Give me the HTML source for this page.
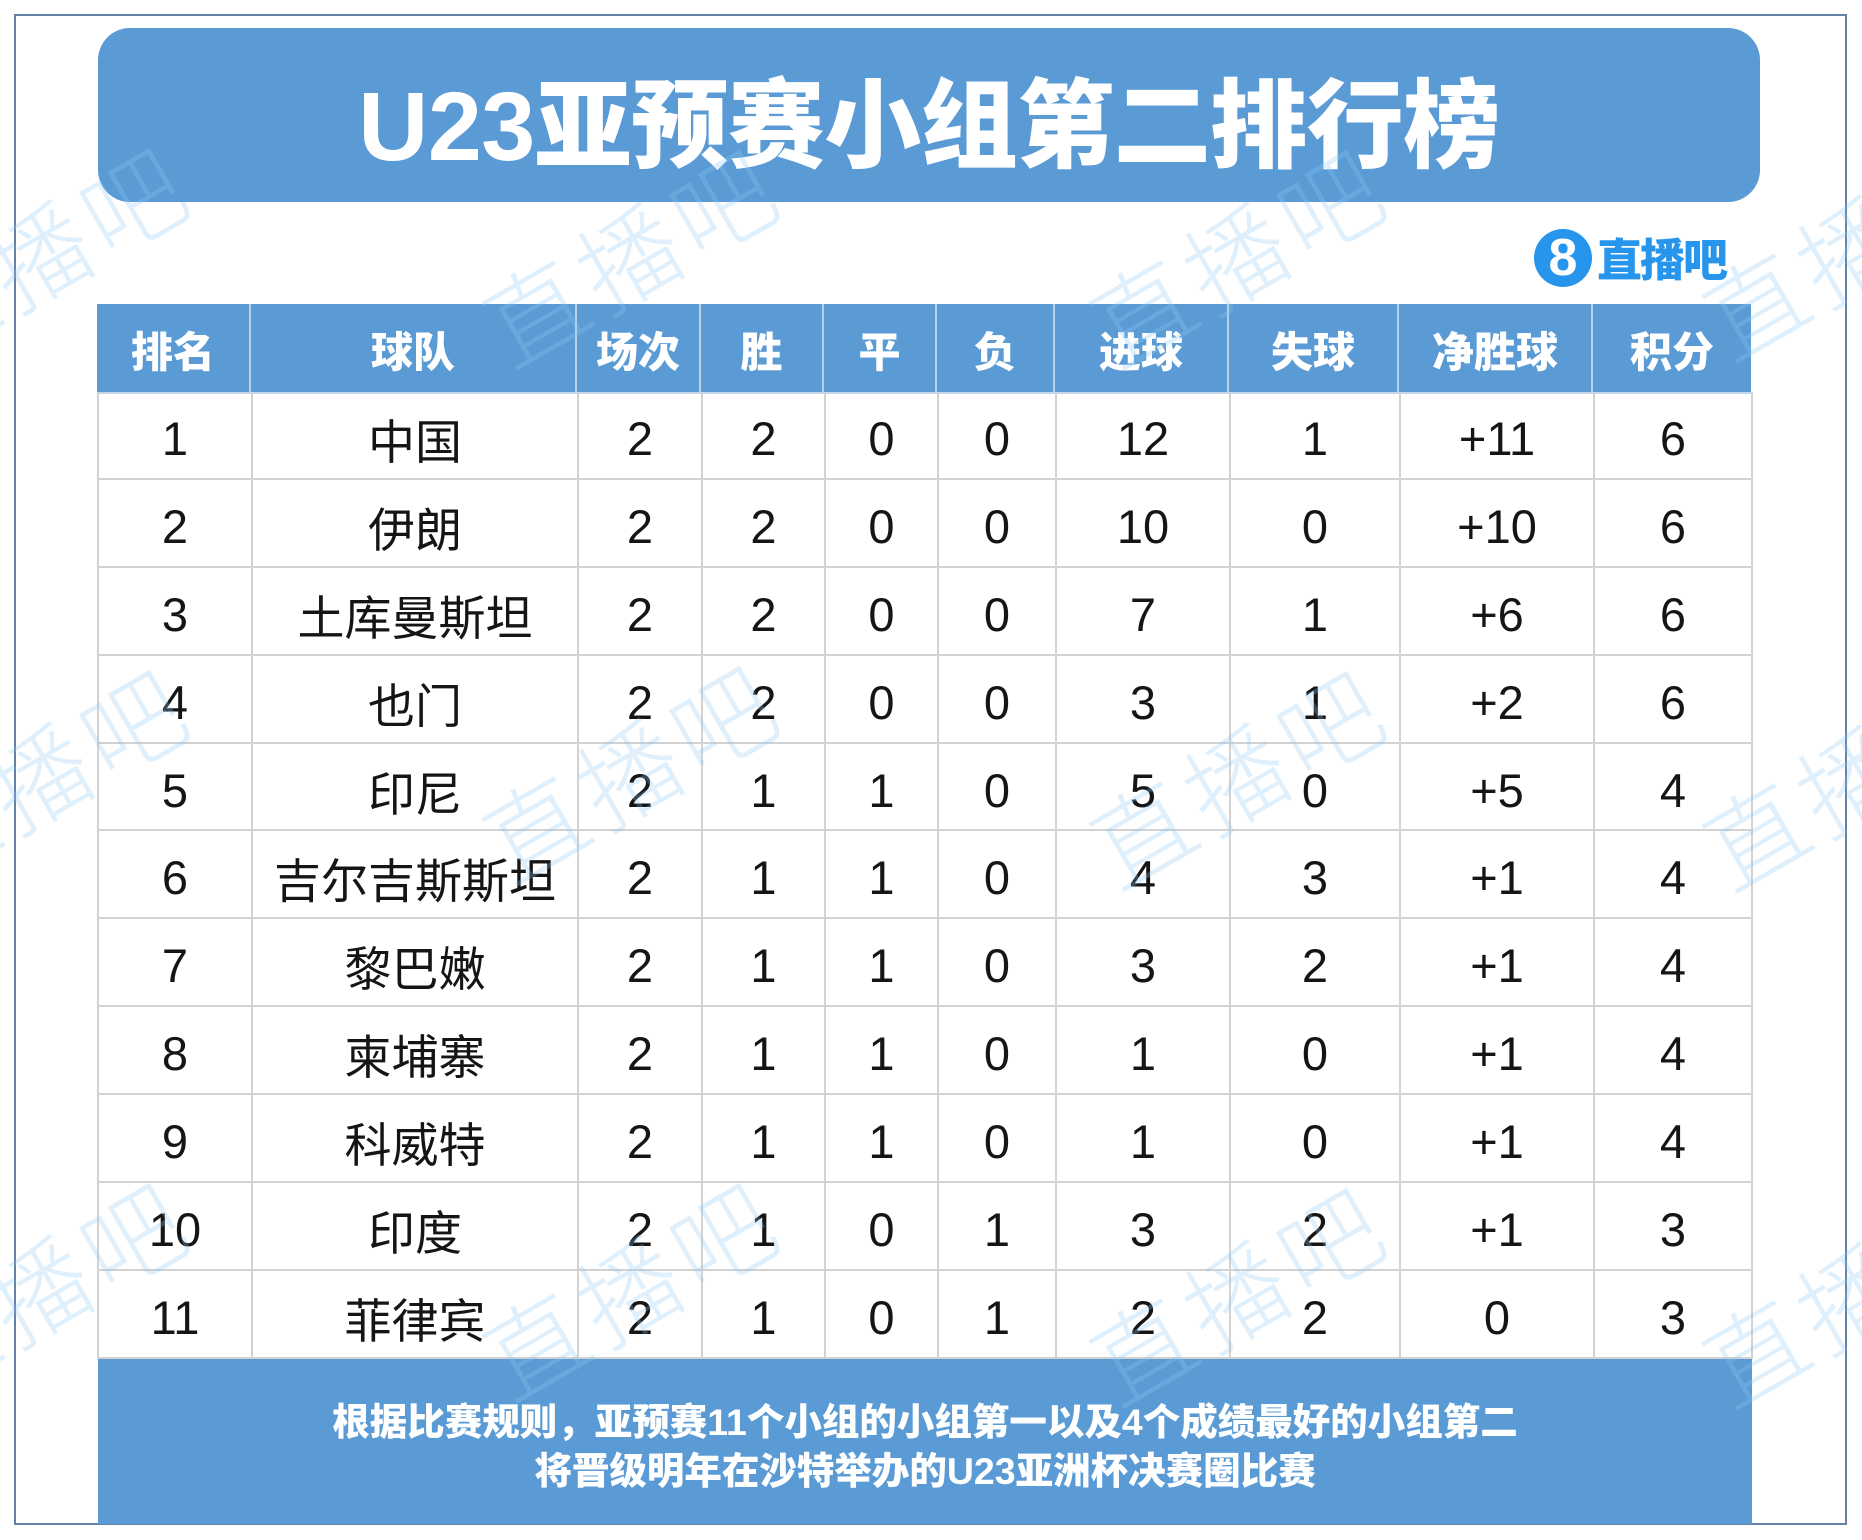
<!DOCTYPE html>
<html><head><meta charset="utf-8">
<style>
*{margin:0;padding:0;box-sizing:border-box;}
html,body{width:1862px;height:1540px;overflow:hidden;background:#fff;}
body{position:relative;font-family:"Liberation Sans","Noto Sans CJK SC",sans-serif;}
.frame{position:absolute;left:14px;top:14px;width:1833px;height:1511px;border:2px solid #6482a8;}
.title{position:absolute;left:98px;top:28px;width:1662px;height:174px;background:#5b9bd5;border-radius:32px;
 color:#fff;font-weight:900;font-size:97px;display:flex;align-items:center;justify-content:center;
 font-family:"Liberation Sans","Noto Sans CJK SC",sans-serif;letter-spacing:-0.5px;}
.title span{position:relative;top:2px;}
.logo{position:absolute;left:1534px;top:229px;width:58px;height:58px;border-radius:50%;background:#2795ec;color:#fff;
 font-weight:900;font-size:52px;line-height:58px;text-align:center;font-family:"Liberation Sans",sans-serif;}
.logotxt{position:absolute;left:1597px;top:226px;font-size:45px;line-height:62px;font-weight:900;color:#2795ec;
 font-family:"Noto Sans CJK SC",sans-serif;letter-spacing:-2px;}
.grid{position:absolute;left:97px;display:grid;grid-template-columns:154px 326px 124px 123px 113px 118px 174px 170px 194px 158px;}
.head{top:304px;grid-auto-rows:88px;background:#5b9bd5;border-bottom:2px solid #c3d6ea;}
.head div{color:#fff;font-weight:900;font-size:42px;display:flex;align-items:center;justify-content:center;
 border-right:2px solid #b8d0ea;font-family:"Noto Sans CJK SC",sans-serif;padding-top:2px;}
.head div:last-child{border-right:none;}
.body{top:392px;grid-auto-rows:87.9px;border-left:2px solid #d2d2d2;}
.body div{color:#151515;font-size:47px;display:flex;align-items:center;justify-content:center;
 border-right:2px solid #d2d2d2;border-bottom:2px solid #d2d2d2;padding-top:7px;
 font-family:"Liberation Sans","Noto Sans CJK SC",sans-serif;}
.foot{position:absolute;left:98px;top:1359px;width:1654px;height:165px;background:#5b9bd5;color:#fff;
 font-weight:900;font-size:37.5px;line-height:49px;text-align:center;padding-top:39px;
 font-family:"Liberation Sans","Noto Sans CJK SC",sans-serif;}
.wm{position:absolute;font-family:"Noto Sans CJK SC",sans-serif;font-weight:300;font-size:100px;line-height:100px;
 color:rgba(140,200,245,0.28);letter-spacing:8px;white-space:nowrap;transform:translate(-50%,-50%) rotate(-30deg);z-index:5;}
</style></head>
<body>
<div class="frame"></div>
<div class="title"><span>U23亚预赛小组第二排行榜</span></div>
<div class="logo">8</div>
<div class="logotxt">直播吧</div>

<div class="grid head">
<div>排名</div><div>球队</div><div>场次</div><div>胜</div><div>平</div><div>负</div><div>进球</div><div>失球</div><div>净胜球</div><div>积分</div>
</div>

<div class="grid body">
<div>1</div><div>中国</div><div>2</div><div>2</div><div>0</div><div>0</div><div>12</div><div>1</div><div>+11</div><div>6</div>
<div>2</div><div>伊朗</div><div>2</div><div>2</div><div>0</div><div>0</div><div>10</div><div>0</div><div>+10</div><div>6</div>
<div>3</div><div>土库曼斯坦</div><div>2</div><div>2</div><div>0</div><div>0</div><div>7</div><div>1</div><div>+6</div><div>6</div>
<div>4</div><div>也门</div><div>2</div><div>2</div><div>0</div><div>0</div><div>3</div><div>1</div><div>+2</div><div>6</div>
<div>5</div><div>印尼</div><div>2</div><div>1</div><div>1</div><div>0</div><div>5</div><div>0</div><div>+5</div><div>4</div>
<div>6</div><div>吉尔吉斯斯坦</div><div>2</div><div>1</div><div>1</div><div>0</div><div>4</div><div>3</div><div>+1</div><div>4</div>
<div>7</div><div>黎巴嫩</div><div>2</div><div>1</div><div>1</div><div>0</div><div>3</div><div>2</div><div>+1</div><div>4</div>
<div>8</div><div>柬埔寨</div><div>2</div><div>1</div><div>1</div><div>0</div><div>1</div><div>0</div><div>+1</div><div>4</div>
<div>9</div><div>科威特</div><div>2</div><div>1</div><div>1</div><div>0</div><div>1</div><div>0</div><div>+1</div><div>4</div>
<div>10</div><div>印度</div><div>2</div><div>1</div><div>0</div><div>1</div><div>3</div><div>2</div><div>+1</div><div>3</div>
<div>11</div><div>菲律宾</div><div>2</div><div>1</div><div>0</div><div>1</div><div>2</div><div>2</div><div>0</div><div>3</div>
</div>

<div class="foot">根据比赛规则，亚预赛11个小组的小组第一以及4个成绩最好的小组第二<br>将晋级明年在沙特举办的U23亚洲杯决赛圈比赛</div>

<div class="wm" style="left:40px;top:250px;">直播吧</div>
<div class="wm" style="left:630px;top:252px;">直播吧</div>
<div class="wm" style="left:1237px;top:252px;">直播吧</div>
<div class="wm" style="left:1850px;top:245px;">直播吧</div>
<div class="wm" style="left:40px;top:772px;">直播吧</div>
<div class="wm" style="left:630px;top:768px;">直播吧</div>
<div class="wm" style="left:1237px;top:773px;">直播吧</div>
<div class="wm" style="left:1850px;top:775px;">直播吧</div>
<div class="wm" style="left:40px;top:1285px;">直播吧</div>
<div class="wm" style="left:630px;top:1285px;">直播吧</div>
<div class="wm" style="left:1237px;top:1290px;">直播吧</div>
<div class="wm" style="left:1850px;top:1292px;">直播吧</div>
</body></html>
